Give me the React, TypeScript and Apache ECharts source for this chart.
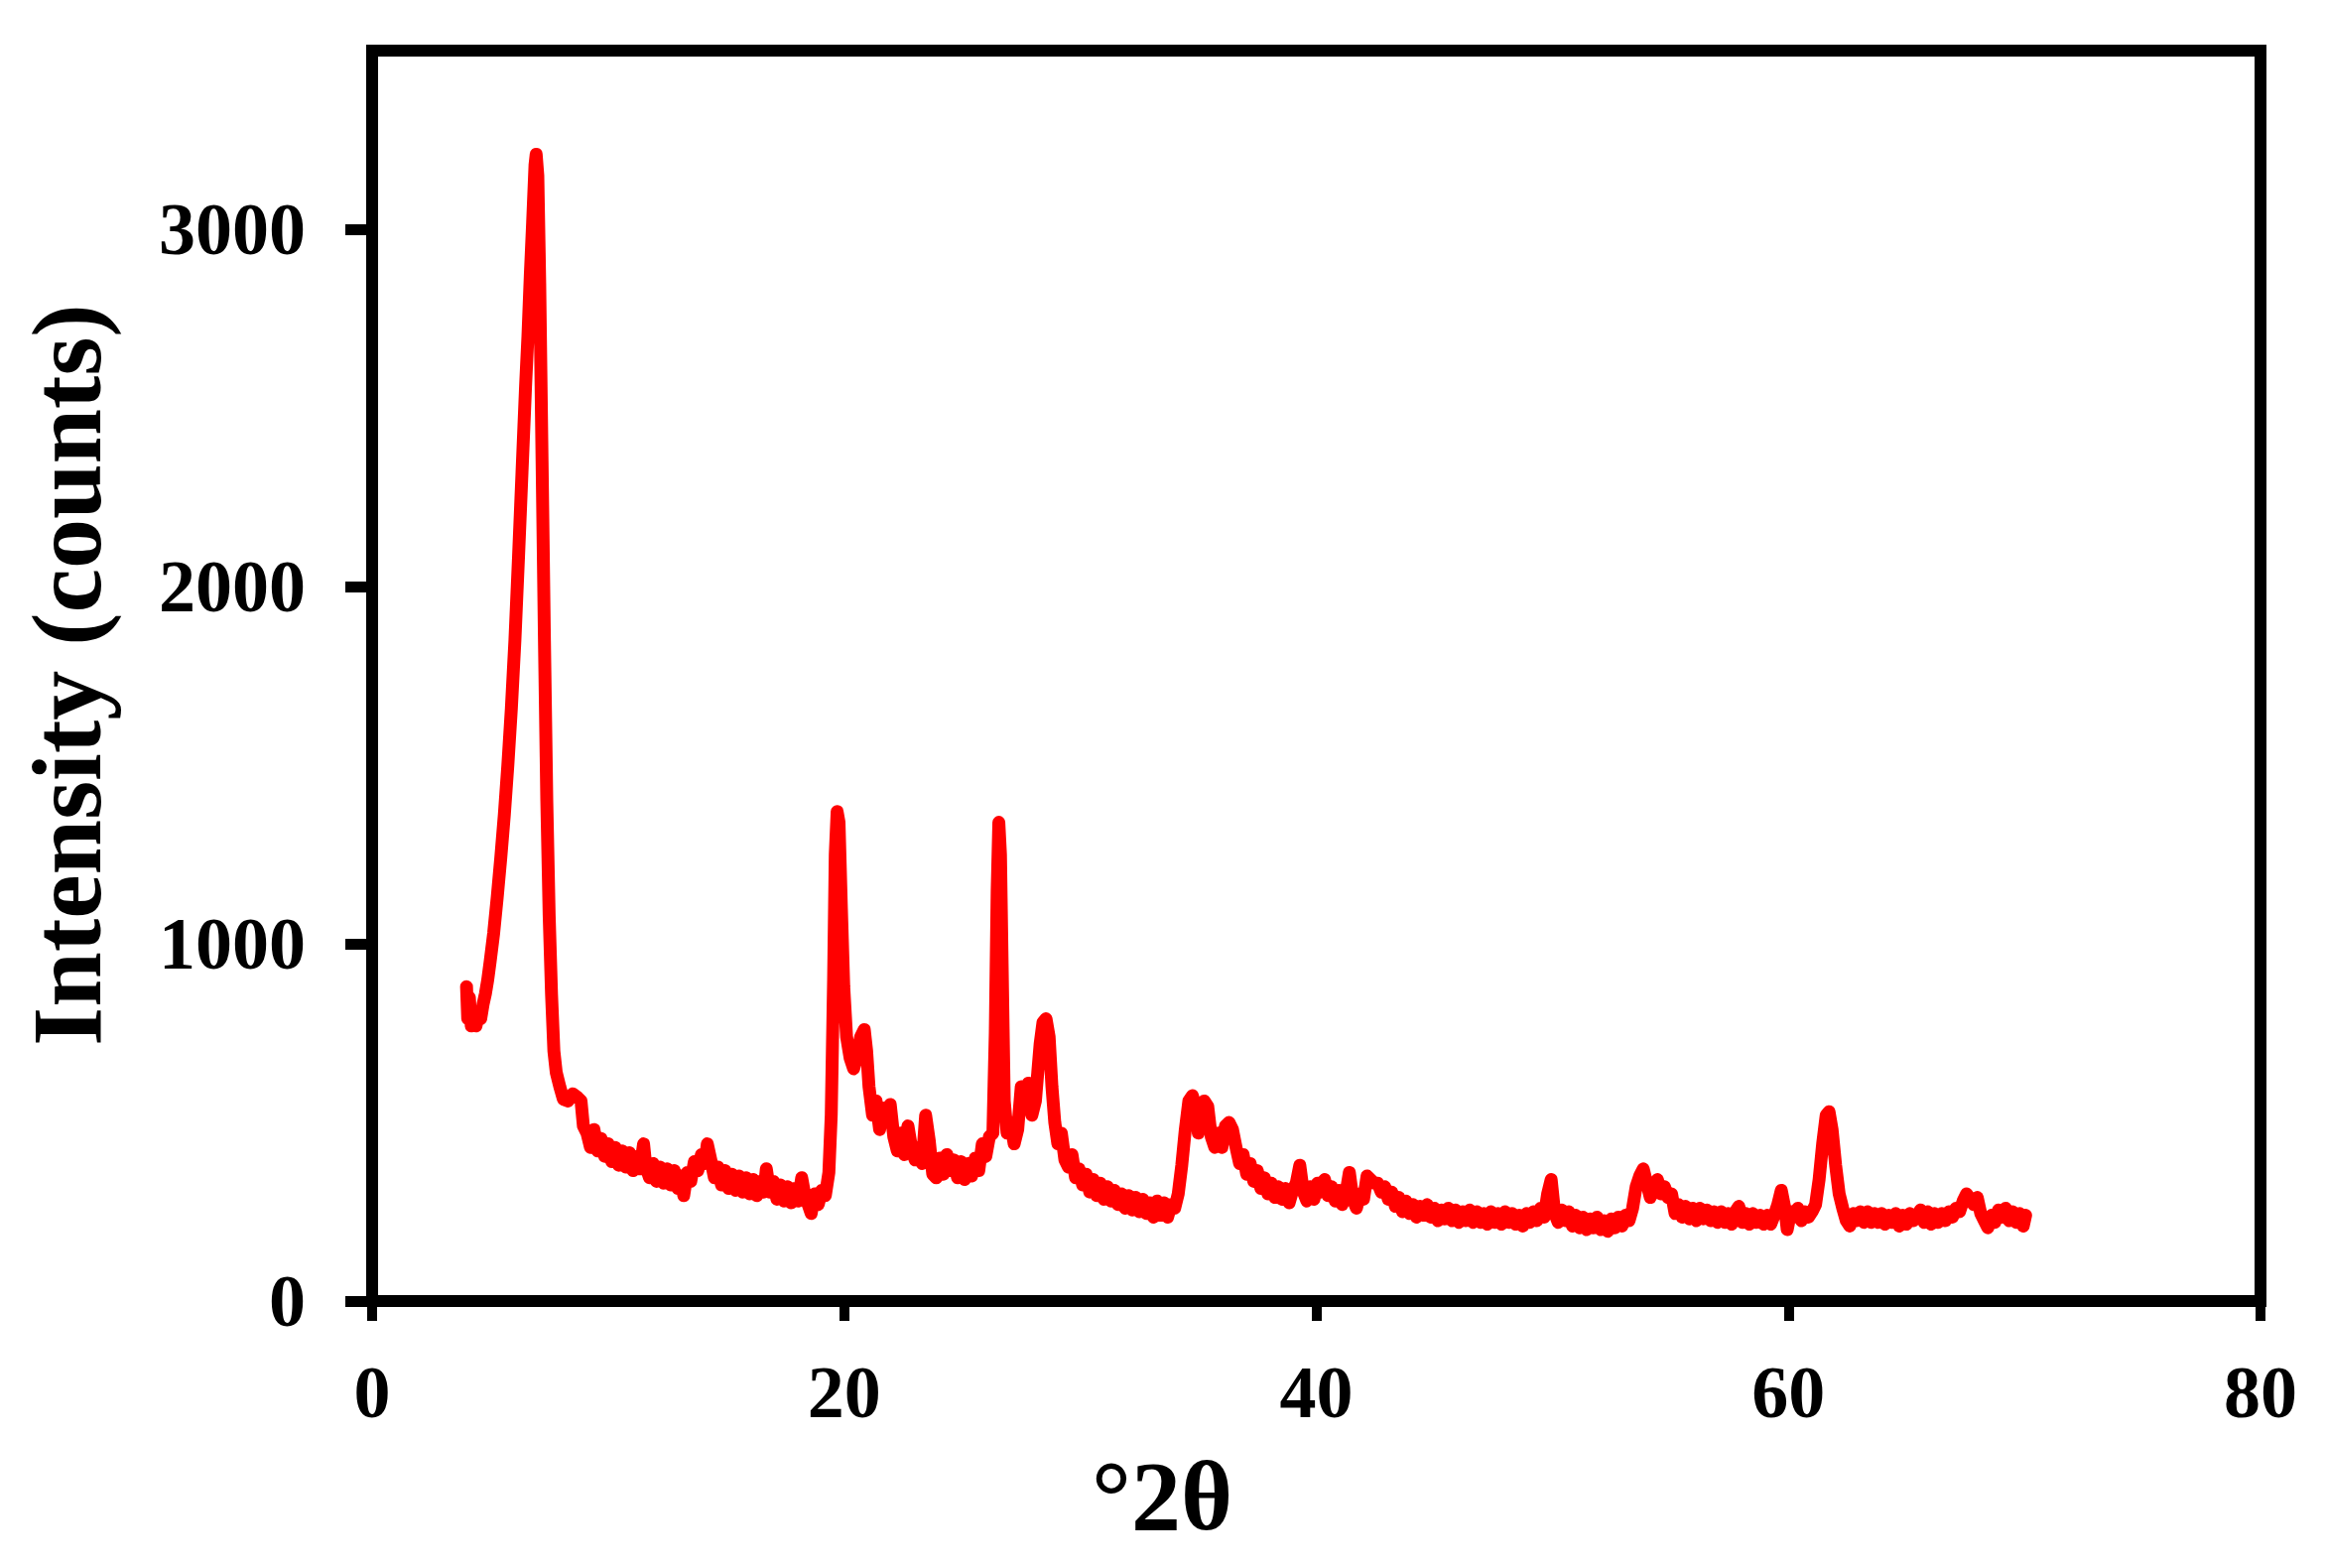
import React, { useEffect, useRef } from "react";
import * as echarts from "echarts";

const xTicks = [0, 20, 40, 60, 80];
const yTicks = [0, 1000, 2000, 3000];
const xTitle = "°2θ";
const yTitle = "Intensity (counts)";

// [2θ, intensity]
const pattern: [number, number][] = [
  [4.0, 880], [4.05, 790], [4.12, 850], [4.2, 770], [4.3, 800], [4.4, 770], [4.5, 800], [4.6, 790],
  [4.7, 830], [4.8, 860], [4.9, 900], [5.0, 950], [5.15, 1030], [5.3, 1130], [5.45, 1240], [5.6, 1360],
  [5.75, 1500], [5.9, 1660], [6.05, 1850], [6.2, 2080], [6.35, 2320], [6.5, 2560], [6.6, 2700],
  [6.7, 2870], [6.8, 3020], [6.9, 3180], [6.95, 3210], [7.02, 3150], [7.1, 2850], [7.2, 2350],
  [7.3, 1850], [7.4, 1400], [7.5, 1080], [7.6, 860], [7.7, 700], [7.8, 640], [7.95, 600], [8.1, 565],
  [8.3, 560], [8.5, 580], [8.7, 570], [8.85, 560], [8.95, 490], [9.1, 470],
  [9.25, 430], [9.4, 480], [9.55, 420], [9.7, 455], [9.85, 405], [10.0, 440], [10.15, 390], [10.3, 430],
  [10.45, 380], [10.6, 420], [10.75, 375], [10.9, 415], [11.05, 365], [11.2, 405], [11.35, 370],
  [11.5, 440], [11.6, 375], [11.75, 345], [11.9, 385], [12.05, 335], [12.2, 375], [12.35, 330],
  [12.5, 370], [12.65, 325], [12.8, 365], [12.95, 315], [13.1, 350], [13.2, 295], [13.35, 360],
  [13.5, 335], [13.65, 390], [13.8, 365], [13.95, 410], [14.1, 385], [14.2, 440], [14.35, 395],
  [14.5, 345], [14.65, 375], [14.8, 325], [14.95, 365], [15.1, 315], [15.25, 355], [15.4, 310],
  [15.55, 350], [15.7, 305], [15.85, 345], [16.0, 300], [16.15, 340], [16.3, 295], [16.45, 335],
  [16.6, 305], [16.7, 370], [16.85, 305], [17.0, 335], [17.15, 285], [17.3, 325], [17.45, 280],
  [17.6, 320], [17.75, 275], [17.9, 315], [18.05, 280], [18.2, 345], [18.35, 290], [18.5, 265],
  [18.6, 245], [18.75, 300], [18.9, 270], [19.05, 310], [19.2, 295], [19.35, 360],
  [19.45, 520], [19.55, 900], [19.62, 1250], [19.7, 1370], [19.78, 1340], [19.88, 1100], [19.98, 880],
  [20.1, 740], [20.25, 680], [20.4, 650], [20.55, 690], [20.7, 740], [20.85, 760], [20.95, 700],
  [21.05, 600], [21.2, 520], [21.35, 560], [21.5, 480], [21.65, 540], [21.8, 500], [21.95, 550],
  [22.1, 460], [22.25, 420], [22.4, 470], [22.55, 410], [22.7, 490], [22.85, 430], [23.0, 395],
  [23.15, 430], [23.3, 385], [23.45, 520], [23.6, 450], [23.75, 355], [23.9, 345], [24.05, 400],
  [24.2, 355], [24.35, 410], [24.5, 365], [24.65, 395], [24.8, 345], [24.95, 390], [25.1, 340],
  [25.25, 385], [25.4, 350], [25.55, 400], [25.7, 365], [25.85, 440], [26.0, 405], [26.15, 460],
  [26.3, 470], [26.4, 750], [26.48, 1150], [26.55, 1340], [26.62, 1250], [26.7, 900], [26.78, 560],
  [26.9, 470], [27.05, 500], [27.2, 440], [27.35, 480], [27.5, 600], [27.65, 560], [27.8, 610],
  [27.95, 520], [28.1, 560], [28.2, 640], [28.3, 720], [28.42, 780], [28.55, 790], [28.68, 740],
  [28.8, 600], [28.92, 500], [29.05, 440], [29.2, 470], [29.35, 395], [29.5, 375], [29.65, 410],
  [29.8, 345], [29.95, 370], [30.1, 325], [30.25, 355], [30.4, 305], [30.55, 340], [30.7, 295],
  [30.85, 330], [31.0, 285], [31.15, 320], [31.3, 280], [31.45, 310], [31.6, 270], [31.75, 300],
  [31.9, 260], [32.05, 295], [32.2, 255], [32.35, 290], [32.5, 250], [32.65, 285], [32.8, 245],
  [32.95, 275], [33.1, 235], [33.25, 280], [33.4, 240], [33.55, 275], [33.7, 235], [33.85, 270],
  [34.0, 260], [34.15, 300], [34.3, 380], [34.45, 480], [34.6, 560], [34.75, 575], [34.9, 540],
  [35.0, 470], [35.1, 520], [35.25, 560], [35.4, 545], [35.55, 460], [35.7, 430], [35.85, 470],
  [36.0, 430], [36.15, 490], [36.3, 500], [36.45, 480], [36.6, 430], [36.75, 385], [36.9, 410],
  [37.05, 355], [37.2, 385], [37.35, 335], [37.5, 365], [37.65, 315], [37.8, 345], [37.95, 300],
  [38.1, 330], [38.25, 290], [38.4, 320], [38.55, 285], [38.7, 315], [38.85, 275], [39.0, 310],
  [39.15, 330], [39.3, 380], [39.45, 305], [39.6, 280], [39.75, 320], [39.9, 285], [40.05, 330],
  [40.2, 305], [40.35, 340], [40.5, 295], [40.65, 320], [40.8, 280], [40.95, 310], [41.1, 270],
  [41.25, 300], [41.4, 360], [41.55, 285], [41.7, 260], [41.85, 300], [42.0, 285], [42.15, 350],
  [42.3, 340], [42.45, 330], [42.6, 330], [42.75, 305], [42.9, 320], [43.05, 285], [43.2, 305],
  [43.35, 265], [43.5, 290], [43.65, 250], [43.8, 280], [43.95, 245], [44.1, 270], [44.25, 235],
  [44.4, 265], [44.55, 240], [44.7, 270], [44.85, 235], [45.0, 260], [45.15, 225], [45.3, 255],
  [45.45, 230], [45.6, 260], [45.75, 225], [45.9, 255], [46.05, 220], [46.2, 250], [46.35, 225],
  [46.5, 255], [46.65, 220], [46.8, 250], [46.95, 220], [47.1, 245], [47.25, 215], [47.4, 250],
  [47.55, 220], [47.7, 245], [47.85, 215], [48.0, 250], [48.15, 220], [48.3, 245], [48.45, 215],
  [48.6, 240], [48.75, 210], [48.9, 245], [49.05, 220], [49.2, 250], [49.35, 225], [49.5, 260],
  [49.65, 235], [49.8, 300], [49.95, 340], [50.1, 245], [50.25, 220], [50.4, 255], [50.55, 225],
  [50.7, 250], [50.85, 210], [51.0, 240], [51.15, 205], [51.3, 235], [51.45, 200], [51.6, 230],
  [51.75, 205], [51.9, 235], [52.05, 200], [52.2, 225], [52.35, 195], [52.5, 230], [52.65, 205],
  [52.8, 235], [52.95, 210], [53.1, 240], [53.25, 225], [53.4, 260], [53.55, 320], [53.7, 350],
  [53.85, 370], [54.0, 330], [54.15, 290], [54.3, 320], [54.45, 340], [54.6, 300], [54.75, 320],
  [54.9, 290], [55.05, 300], [55.2, 245], [55.35, 270], [55.5, 235], [55.65, 265], [55.8, 230],
  [55.95, 260], [56.1, 225], [56.25, 260], [56.4, 230], [56.55, 255], [56.7, 225], [56.85, 250],
  [57.0, 220], [57.15, 250], [57.3, 220], [57.45, 245], [57.6, 215], [57.75, 250], [57.9, 265],
  [58.05, 220], [58.2, 245], [58.35, 215], [58.5, 245], [58.65, 220], [58.8, 240], [58.95, 215],
  [59.1, 240], [59.25, 215], [59.4, 240], [59.55, 270], [59.7, 310], [59.85, 260], [59.95, 200],
  [60.1, 250], [60.25, 235], [60.4, 260], [60.55, 225], [60.7, 250], [60.85, 235], [61.0, 250],
  [61.15, 270], [61.3, 340], [61.45, 440], [61.6, 520], [61.72, 530], [61.85, 480], [62.0, 380],
  [62.15, 300], [62.3, 260], [62.45, 225], [62.6, 210], [62.75, 245], [62.9, 225], [63.05, 250],
  [63.2, 220], [63.35, 250], [63.5, 220], [63.65, 245], [63.8, 220], [63.95, 245], [64.1, 215],
  [64.25, 240], [64.4, 220], [64.55, 245], [64.7, 210], [64.85, 240], [65.0, 215], [65.15, 245],
  [65.3, 225], [65.45, 240], [65.6, 255], [65.75, 220], [65.9, 250], [66.05, 215], [66.2, 245],
  [66.35, 220], [66.5, 245], [66.65, 225], [66.8, 250], [66.95, 235], [67.1, 260], [67.25, 250],
  [67.4, 280], [67.55, 300], [67.7, 285], [67.85, 270], [68.0, 290], [68.15, 245], [68.3, 225],
  [68.45, 205], [68.6, 240], [68.75, 220], [68.9, 255], [69.05, 235], [69.2, 260], [69.35, 225],
  [69.5, 250], [69.65, 220], [69.8, 245], [69.95, 210], [70.05, 240],
];

const FONT = "'Liberation Serif', 'Times New Roman', serif";

export default function App() {
  const ref = useRef<HTMLDivElement>(null);
  useEffect(() => {
    if (!ref.current) return;
    const chart = echarts.init(ref.current, null, { renderer: "svg" });
    chart.setOption({
      animation: false,
      backgroundColor: "#ffffff",
      grid: {
        show: true,
        left: 375,
        top: 51,
        width: 1903,
        height: 1260,
        borderColor: "#000",
        borderWidth: 12,
        backgroundColor: "transparent",
      },
      xAxis: {
        type: "value",
        min: 0,
        max: 80,
        interval: 20,
        axisLine: { show: false },
        splitLine: { show: false },
        axisTick: {
          show: true,
          inside: false,
          length: 20,
          lineStyle: { color: "#000", width: 10 },
          customValues: xTicks,
        },
        axisLabel: {
          customValues: xTicks,
          margin: 55,
          formatter: (v: number) => String(v),
          fontFamily: FONT,
          fontWeight: "bold",
          fontSize: 74,
          color: "#000",
        },
      },
      yAxis: {
        type: "value",
        min: 0,
        max: 3500,
        interval: 500,
        axisLine: { show: false },
        splitLine: { show: false },
        axisTick: {
          show: true,
          inside: false,
          length: 27,
          lineStyle: { color: "#000", width: 11 },
          customValues: yTicks,
        },
        axisLabel: {
          customValues: yTicks,
          margin: 67,
          formatter: (v: number) => String(v),
          fontFamily: FONT,
          fontWeight: "bold",
          fontSize: 74,
          color: "#000",
        },
      },
      graphic: [
        {
          type: "text",
          x: 1171,
          y: 1507,
          style: {
            text: xTitle,
            fontFamily: FONT,
            fontWeight: "bold",
            fontSize: 100,
            fill: "#000",
            align: "center",
            verticalAlign: "middle",
          },
        },
        {
          type: "text",
          x: 67,
          y: 680,
          rotation: Math.PI / 2,
          style: {
            text: yTitle,
            fontFamily: FONT,
            fontWeight: "bold",
            fontSize: 100,
            fill: "#000",
            align: "center",
            verticalAlign: "middle",
          },
        },
      ],
      series: [
        {
          type: "line",
          data: pattern,
          showSymbol: false,
          symbol: "none",
          smooth: false,
          lineStyle: { color: "#ff0000", width: 13, join: "round", cap: "round" },
          z: 1,
        },
      ],
    });
    return () => chart.dispose();
  }, []);
  return (
    <div
      ref={ref}
      style={{ position: "fixed", left: 0, top: 0, width: "2344px", height: "1580px", background: "#fff" }}
    />
  );
}
